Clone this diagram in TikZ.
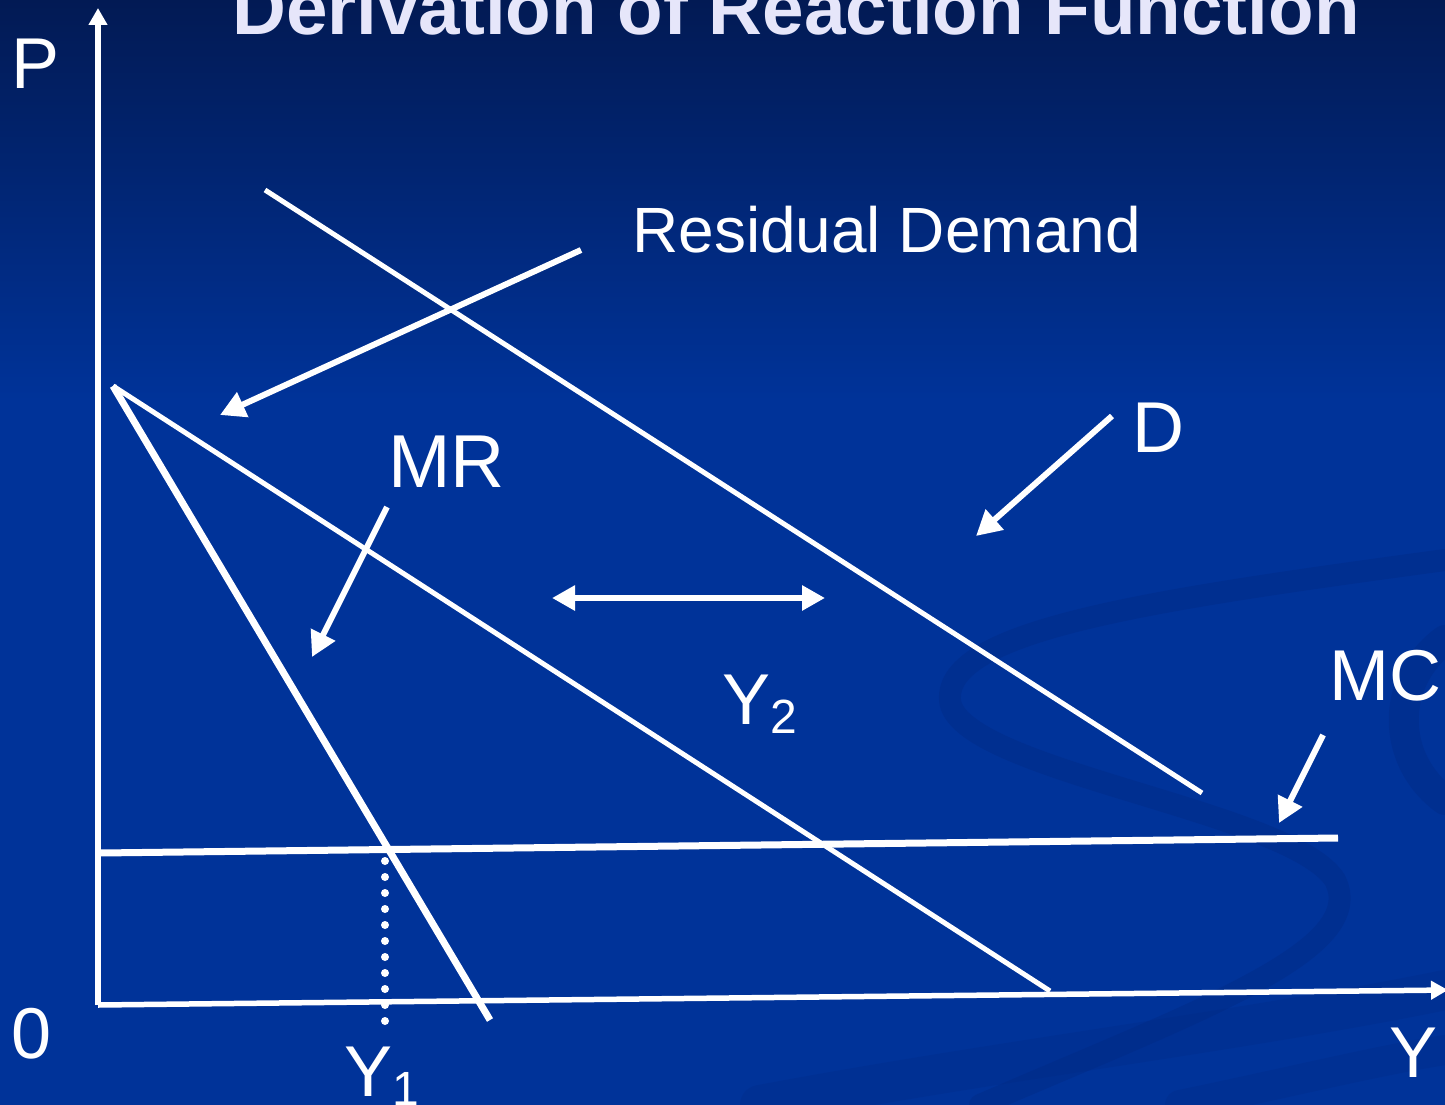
\documentclass[tikz,border=0pt]{standalone}
\usepackage{fontspec}
\setmainfont{Liberation Sans}
\usetikzlibrary{arrows.meta}
\definecolor{bgtop}{RGB}{2,26,84}
\definecolor{bgbot}{RGB}{0,51,153}
\definecolor{titlecol}{RGB}{230,230,250}
\definecolor{swirlcol}{RGB}{0,40,130}
\tikzset{
  lab/.style={text=white, inner sep=0pt, anchor=base west, font=\fontsize{72}{80}\selectfont},
  thinline/.style={draw=white, line width=5pt},
  thickline/.style={draw=white, line width=7pt},
  axisline/.style={draw=white, line width=5.5pt, -{Triangle[length=17pt,width=18pt]}},
  pointer/.style={draw=white, line width=6pt, -{Triangle[length=25pt,width=26pt]}},
  dblpointer/.style={draw=white, line width=6pt, {Triangle[length=23pt,width=24pt]}-{Triangle[length=23pt,width=24pt]}},
  dotline/.style={draw=white, line width=8pt, line cap=round, dash pattern=on 0pt off 16pt},
  swirl/.style={draw=swirlcol, opacity=0.35, line cap=round}
}
\newcommand{\mysub}[1]{\raisebox{-9pt}{\fontsize{48}{50}\selectfont #1}}
\begin{document}
\begin{tikzpicture}[x=1pt,y=-1pt]
\useasboundingbox (0,0) rectangle (1445,1105);
\fill[bgbot] (0,0) rectangle (1445,1105);
\shade[top color=bgtop, bottom color=bgbot] (0,0) rectangle (1445,400);
% faint background swirl
\draw[swirl, line width=22pt] (1445,560) .. controls (1150,600) and (945,630) .. (950,700)
  .. controls (955,770) and (1290,810) .. (1335,880) .. controls (1370,950) and (1200,1010) .. (980,1105);
\draw[swirl, line width=30pt] (1445,640) .. controls (1390,680) and (1390,760) .. (1445,800);
\draw[swirl, line width=40pt, opacity=0.25] (760,1105) .. controls (1000,1060) and (1250,1030) .. (1445,990);
\draw[swirl, line width=30pt, opacity=0.25] (1180,1105) .. controls (1300,1080) and (1380,1060) .. (1445,1050);

% title
\node (title) [anchor=base, inner sep=0pt, text=titlecol, font=\bfseries\fontsize{74.6}{80}\selectfont] at (796,35) {Derivation of Reaction Function};

% coordinates
\coordinate (O) at (98,1005);
\coordinate (Ptop) at (98,8);
\coordinate (Xend) at (1448,990);
\coordinate (apex) at (113,386);
\coordinate (Dstart) at (265,190);
\coordinate (Dend) at (1202,793);
\coordinate (RDend) at (1050,991);
\coordinate (MRend) at (490,1020);
\coordinate (MCstart) at (100,853);
\coordinate (MCend) at (1338,838);
\coordinate (dotTop) at (385,861);
\coordinate (dotBot) at (385,1022);
\coordinate (rdA) at (581,250);
\coordinate (rdB) at (220,415);
\coordinate (mrA) at (387,507);
\coordinate (mrB) at (312,657);
\coordinate (dA) at (1112,416);
\coordinate (dB) at (976,536);
\coordinate (hA) at (552,598);
\coordinate (hB) at (825,598);
\coordinate (mcA) at (1323,735);
\coordinate (mcB) at (1279,823);

% curves
\draw[thinline] (Dstart) -- (Dend);
\draw[thinline] (apex) -- (RDend);
\draw[thickline] (apex) -- (MRend);
\draw[thickline] (MCstart) -- (MCend);
\draw[dotline] (dotTop) -- (dotBot);

% axes
\draw[axisline] (O) -- (Ptop);
\draw[axisline] (O) -- (Xend);

% pointers
\draw[pointer] (rdA) -- (rdB);
\draw[pointer] (mrA) -- (mrB);
\draw[pointer] (dA) -- (dB);
\draw[pointer] (mcA) -- (mcB);
\draw[dblpointer] (hA) -- (hB);

% labels
\node (lP) [lab] at (11,89) {P};
\node (lzero) [lab] at (11,1058) {0};
\node (lY) [lab] at (1389,1077) {Y};
\node (lRD) [lab, font=\fontsize{64}{70}\selectfont] at (632,252) {Residual Demand};
\node (lMR) [lab, font=\fontsize{75}{80}\selectfont] at (388,487) {MR};
\node (lD) [lab] at (1132,452) {D};
\node (lMC) [lab] at (1329,700) {MC};
\node (lY2) [lab] at (722,724) {Y\mysub{2}};
\node (lY1) [lab] at (344,1096) {Y\mysub{1}};
\end{tikzpicture}
\end{document}
